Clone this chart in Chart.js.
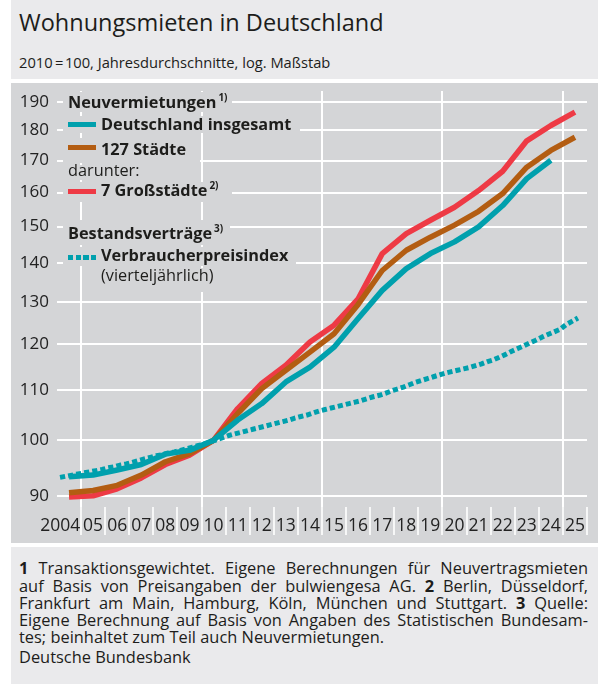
<!DOCTYPE html>
<html><head><meta charset="utf-8">
<script src="https://cdn.jsdelivr.net/npm/chart.js@4.4.1/dist/chart.umd.min.js"></script>
<style>
html,body{margin:0;padding:0;background:#fff;}
body{width:601px;height:684px;position:relative;overflow:hidden;font-family:'Open Sans',sans-serif;color:#1d1d1b;}
.panel{position:absolute;left:11px;width:587px;}
#hdr{top:0;height:79px;background:#eaeaec;}
#plot{top:83px;height:460px;background:#d4d5d7;}
#ftr{top:547px;height:137px;background:#eaeaec;}
.t{position:absolute;white-space:nowrap;line-height:1;}
#title{left:19px;top:11px;font-size:23.5px;}
#sub{left:19px;top:55.4px;font-size:14.7px;}
#chart{position:absolute;left:11px;top:83px;}
.mask{position:absolute;background:#d4d5d7;}
.lg{position:absolute;white-space:nowrap;font-size:16.3px;line-height:1;font-weight:700;}
.lg.n{font-weight:400;}
.sup{font-size:10px;position:relative;top:-7px;margin-left:2px;font-weight:700;}
.sw{position:absolute;left:68px;width:28px;height:5px;}
#fn{position:absolute;left:19px;top:559.3px;width:569px;font-size:16.4px;line-height:17.3px;}
#fn .j{text-align:justify;text-align-last:justify;white-space:nowrap;}
#fn b{font-weight:700;}
</style></head>
<body>
<div id="hdr" class="panel"></div>
<div id="plot" class="panel"></div>
<div id="ftr" class="panel"></div>
<div id="title" class="t">Wohnungsmieten in Deutschland</div>
<div id="sub" class="t">2010&#8201;=&#8202;100, Jahresdurchschnitte, log. Maßstab</div>
<canvas id="chart" width="587" height="460"></canvas>

<div class="mask" style="left:63px;top:92px;width:169px;height:20px"></div>
<div class="mask" style="left:63px;top:116px;width:237px;height:17px"></div>
<div class="mask" style="left:63px;top:138px;width:137px;height:25px"></div>
<div class="mask" style="left:63px;top:165px;width:80px;height:15px"></div>
<div class="mask" style="left:63px;top:182px;width:169px;height:20px"></div>
<div class="mask" style="left:63px;top:220px;width:167px;height:25px"></div>
<div class="mask" style="left:63px;top:247px;width:233px;height:19px"></div>
<div class="mask" style="left:96px;top:268px;width:122px;height:24px"></div>

<div class="lg" style="left:68px;top:93.8px">Neuvermietungen<span class="sup">1)</span></div>
<div class="sw" style="top:122px;background:#00a0ad"></div>
<div class="lg" style="left:101px;top:116.2px">Deutschland insgesamt</div>
<div class="sw" style="top:145px;background:#b35d12"></div>
<div class="lg" style="left:101px;top:140.5px">127 Städte</div>
<div class="lg n" style="left:68px;top:162.2px">darunter:</div>
<div class="sw" style="top:188.5px;background:#ee3a45"></div>
<div class="lg" style="left:101px;top:182.2px">7 Großstädte<span class="sup">2)</span></div>
<div class="lg" style="left:68px;top:225px">Bestandsverträge<span class="sup">3)</span></div>
<div class="sw" style="top:254.5px;background:repeating-linear-gradient(90deg,#00a0ad 0 5.5px,transparent 5.5px 7.7px)"></div>
<div class="lg" style="left:101px;top:247.2px">Verbraucherpreisindex</div>
<div class="lg n" style="left:101px;top:267.2px">(vierteljährlich)</div>

<div id="fn">
<div class="j"><b>1</b> Transaktionsgewichtet. Eigene Berechnungen für Neuvertragsmieten</div>
<div class="j">auf Basis von Preisangaben der bulwiengesa AG. <b>2</b> Berlin, Düsseldorf,</div>
<div class="j">Frankfurt am Main, Hamburg, Köln, München und Stuttgart. <b>3</b> Quelle:</div>
<div class="j">Eigene Berechnung auf Basis von Angaben des Statistischen Bundesam-</div>
<div>tes; beinhaltet zum Teil auch Neuvermietungen.</div>
<div style="margin-top:2.7px">Deutsche Bundesbank</div>
</div>

<script>
const years = [2004,2005,2006,2007,2008,2009,2010,2011,2012,2013,2014,2015,2016,2017,2018,2019,2020,2021,2022,2023,2024,2025];
const tickLabels = ['2004','05','06','07','08','09','10','11','12','13','14','15','16','17','18','19','20','21','22','23','24','25'];
const yTicks = [90,100,110,120,130,140,150,160,170,180,190];

// Neuvermietungen, Jahresdurchschnitte (2010 = 100)
const deutschland   = [93.3,93.6,94.5,95.5,97.4,98.1,100,103.9,107.2,111.7,114.9,119.3,126.0,132.9,138.5,142.5,145.7,149.9,156.1,164.3,170.1,null];
const staedte127    = [90.5,90.9,91.8,93.6,96.0,97.5,100,105.2,110.3,114.2,118.2,122.4,129.4,138.0,143.4,147.0,150.4,154.4,159.7,167.9,173.3,177.7];
const grossstaedte7 = [89.8,90.0,91.2,93.1,95.5,97.2,100,106.2,111.4,115.3,120.5,124.4,130.8,142.5,148.0,151.8,155.6,160.6,166.6,176.5,181.7,186.4];

// Bestandsverträge: Verbraucherpreisindex, vierteljährlich, ab 2004 Q1
const cpiQuarterly = [
  93.2,93.4,93.6,93.8,
  94.0,94.2,94.4,94.6,
  94.9,95.1,95.4,95.6,
  95.9,96.2,96.5,96.8,
  97.1,97.3,97.6,97.8,
  98.1,98.4,98.7,99.0,
  99.3,99.7,100.1,100.5,
  100.9,101.2,101.5,101.8,
  102.1,102.4,102.7,103.0,
  103.3,103.6,103.9,104.3,
  104.6,104.9,105.3,105.7,
  106.0,106.3,106.6,106.9,
  107.2,107.5,107.8,108.2,
  108.6,108.9,109.3,109.8,
  110.2,110.6,111.1,111.6,
  112.0,112.4,112.8,113.2,
  113.6,113.9,114.2,114.5,
  114.8,115.2,115.6,116.1,
  116.5,117.1,117.7,118.4,
  119.0,119.6,120.3,120.9,
  121.6,122.2,122.8,123.4,
  124.5,125.3,126.1
];

const TEAL = '#00a0ad', BROWN = '#b35d12', RED = '#ee3a45';

const annual = arr => years.map((y, i) => ({x: y + 0.5, y: arr[i]})).filter(p => p.y != null);
const quarterly = arr => arr.map((v, i) => ({x: years[0] + Math.floor(i / 4) + ((i % 4) + 0.5) / 4, y: v}));

const lastYear = years[years.length - 1] + 1;

new Chart(document.getElementById('chart'), {
  type: 'line',
  data: {
    datasets: [
      {label: 'Verbraucherpreisindex', data: quarterly(cpiQuarterly), borderColor: TEAL, borderWidth: 5, borderDash: [5.2, 3], borderCapStyle: 'butt'},
      {label: 'Deutschland insgesamt', data: annual(deutschland), borderColor: TEAL, borderWidth: 5.5},
      {label: '127 Städte', data: annual(staedte127), borderColor: BROWN, borderWidth: 5.5},
      {label: '7 Großstädte', data: annual(grossstaedte7), borderColor: RED, borderWidth: 5.5}
    ]
  },
  options: {
    responsive: false,
    animation: false,
    devicePixelRatio: 1,
    layout: {padding: {top: 8, right: 11, bottom: 0, left: 0}},
    elements: {point: {radius: 0}, line: {tension: 0, borderJoinStyle: 'round', fill: false}},
    plugins: {legend: {display: false}, tooltip: {enabled: false}},
    scales: {
      x: {
        type: 'linear', min: years[0], max: lastYear,
        afterBuildTicks: s => { s.ticks = years.concat([lastYear]).map(v => ({value: v})); },
        afterFit: s => { s.height = 36; s.paddingLeft = 0; s.paddingRight = 0; },
        grid: {
          color: c => (c.tick && c.tick.value % 5 === 0 && c.tick.value > years[0] && c.tick.value < lastYear) ? '#ffffff' : 'rgba(0,0,0,0)',
          lineWidth: 2, drawTicks: true, tickLength: 28,
          tickColor: c => (c.tick && c.tick.value === years[0]) ? 'rgba(0,0,0,0)' : '#ffffff',
          tickWidth: 1.6
        },
        border: {display: false},
        ticks: {
          autoSkip: false, maxRotation: 0, minRotation: 0, labelOffset: 12, padding: -19,
          color: '#222', font: {family: 'Open Sans', size: 17.5},
          callback: v => { const i = years.indexOf(v); if (i < 0) return ''; return i === 0 ? tickLabels[i] + '\u2002\u2002' : tickLabels[i]; }
        }
      },
      y: {
        type: 'logarithmic', min: 88.1, max: 194,
        afterBuildTicks: s => { s.ticks = yTicks.map(v => ({value: v})); },
        afterFit: s => { s.width = 46; s.paddingTop = 0; s.paddingBottom = 0; },
        grid: {color: '#ffffff', lineWidth: 2, drawTicks: false},
        border: {display: false},
        ticks: {padding: 8, color: '#222', font: {family: 'Open Sans', size: 17}, callback: v => String(v)}
      }
    }
  }
});
</script>
</body></html>
